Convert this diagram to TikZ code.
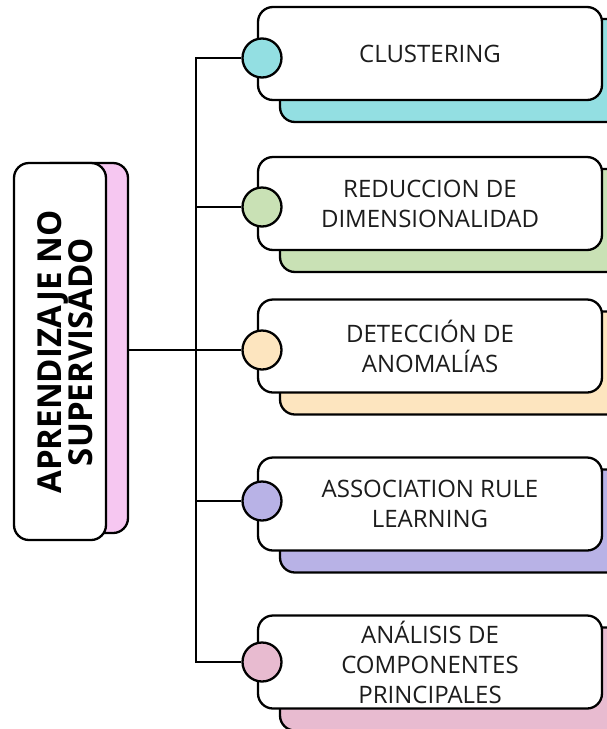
\documentclass[tikz,border=0pt]{standalone}
\usepackage{fontspec}
\setmainfont{Open Sans}
\definecolor{cteal}{HTML}{93DFE2}
\definecolor{cgreen}{HTML}{C9E1B5}
\definecolor{cyellow}{HTML}{FDE5BF}
\definecolor{cpurple}{HTML}{B8B2E6}
\definecolor{cpink}{HTML}{E8BBD0}
\definecolor{clpink}{HTML}{F6C7F1}
\definecolor{ink}{HTML}{1C1C1C}
\begin{document}
\begin{tikzpicture}[x=1pt,y=-1pt,
  card/.style={draw=black, line width=2.3pt, rounded corners=15pt, rectangle,
    inner sep=0pt, minimum width=344pt, minimum height=93pt},
  front/.style={card, fill=white, text=ink, align=center,
    font=\fontsize{24}{30}\selectfont},
  shadowcard/.style={card, minimum height=103pt, fill=#1},
  dot/.style={draw=black, line width=2.3pt, circle, minimum size=39pt,
    inner sep=0pt, fill=#1},
  wire/.style={draw=black, line width=2pt}]
\useasboundingbox (0,0) rectangle (607,729);

% left title card
\node[draw=black, line width=2.3pt, rounded corners=15pt, fill=clpink,
  minimum width=92pt, minimum height=370pt, inner sep=0pt] (lb) at (82,348) {};
\node[draw=black, line width=2.3pt, rounded corners=15pt, fill=white,
  minimum width=92pt, minimum height=377pt, inner sep=0pt] (lf) at (60,351.5) {};
\node[rotate=90, align=center, text=black,
  font=\fontsize{33}{31}\selectfont\bfseries] (title) at (65,352)
  {APRENDIZAJE NO\\SUPERVISADO};

% right cards: coloured shadow, white face
\node[shadowcard=cteal]   (b1) at (452,70.5)  {};
\node[shadowcard=cgreen]  (b2) at (452,220.5) {};
\node[shadowcard=cyellow] (b3) at (452,363)   {};
\node[shadowcard=cpurple] (b4) at (452,521)   {};
\node[shadowcard=cpink]   (b5) at (452,679)   {};

\node[front] (f1) at (430,53.5)  {CLUSTERING};
\node[front] (f2) at (430,203.5) {REDUCCION DE\\DIMENSIONALIDAD};
\node[front] (f3) at (430,346)   {DETECCIÓN DE\\ANOMALÍAS};
\node[front] (f4) at (430,504)   {ASSOCIATION RULE\\LEARNING};
\node[front] (f5) at (430,662)   {ANÁLISIS DE\\COMPONENTES\\PRINCIPALES};

% connector dots
\node[dot=cteal]   (c1) at (262,58)  {};
\node[dot=cgreen]  (c2) at (262,207) {};
\node[dot=cyellow] (c3) at (262,350) {};
\node[dot=cpurple] (c4) at (262,501) {};
\node[dot=cpink]   (c5) at (262,662) {};

% tree of connectors
\coordinate (trunk) at (196,0);
\draw[wire] (lb.east |- c3.west) -- (c3.west);
\draw[wire, line join=miter] (c1.west) -- (c1.west -| trunk) -- (c5.west -| trunk) -- (c5.west);
\draw[wire] (c2.west -| trunk) -- (c2.west);
\draw[wire] (c4.west -| trunk) -- (c4.west);
\end{tikzpicture}
\end{document}
